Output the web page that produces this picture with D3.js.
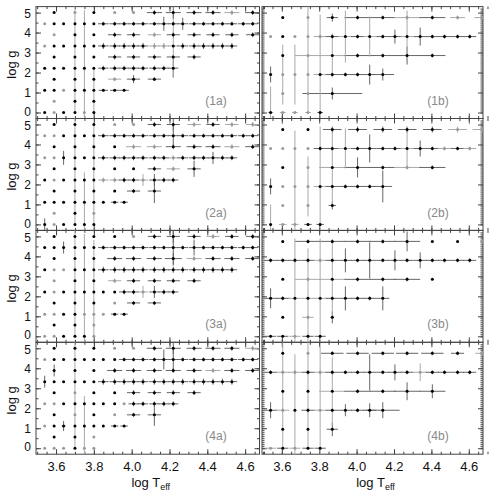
<!DOCTYPE html>
<html>
<head>
<meta charset="utf-8">
<script src="https://cdn.jsdelivr.net/npm/d3@7"></script>
<style>
    body { margin: 0; background: #fff; }
    svg { display: block; font-family: "Liberation Sans", Arial, sans-serif; }
</style>
</head>
<body>
<svg id="chart" width="491" height="496"></svg>
<script>
// grid of the (a) panels: log Teff columns, log g rows, which columns sit on each row
const teffA = [3.54, 3.59, 3.64, 3.70, 3.75, 3.80, 3.85, 3.91, 3.96, 4.01, 4.06,
               4.12, 4.17, 4.22, 4.27, 4.33, 4.38, 4.43, 4.48, 4.53, 4.59, 4.64];
const loggA = [0, 0.56, 1.11, 1.67, 2.22, 2.78, 3.33, 3.89, 4.44, 5.0];
const rowsA = [
    [0, 1, 2, 3, 4, 5],
    [1, 3, 5],
    [0, 1, 2, 3, 4, 5, 6, 7, 8],
    [1, 3, 5, 7, 9, 11],
    [0, 1, 2, 3, 4, 5, 6, 7, 8, 9, 10, 11, 12, 13],
    [1, 3, 5, 7, 9, 11, 13, 15],
    [0, 1, 2, 3, 4, 5, 6, 7, 8, 9, 10, 11, 12, 13, 14, 15, 16, 17, 18, 19],
    [1, 3, 5, 7, 9, 11, 13, 15, 17, 19, 21],
    [0, 1, 2, 3, 4, 5, 6, 7, 8, 9, 10, 11, 12, 13, 14, 15, 16, 17, 18, 19, 20, 21],
    [1, 3, 5, 7, 9, 11, 13, 15, 17, 19, 21]
];

// grid of the (b) panels
const teffB = [3.54, 3.605, 3.67, 3.74, 3.805, 3.87, 3.94, 4.005, 4.07,
               4.14, 4.205, 4.27, 4.34, 4.405, 4.47, 4.54, 4.605, 4.67];
const loggB = [0, 0.95, 1.9, 2.85, 3.8, 4.75];
const rowsB = [
    [0, 1, 2, 3, 4],
    [1, 3, 5],
    [0, 1, 2, 3, 4, 5, 6, 7, 8, 9],
    [1, 3, 5, 7, 9, 11, 13],
    [0, 1, 2, 3, 4, 5, 6, 7, 8, 9, 10, 11, 12, 13, 14, 15, 16],
    [1, 3, 5, 7, 9, 11, 13, 15, 17]
];

const teffTicks = [3.6, 3.8, 4.0, 4.2, 4.4, 4.6];
const loggTicks = [0, 1, 2, 3, 4, 5];

// per panel: gray points [col, row]; error runs [row, colFrom, colTo, dTeff, dlogg];
// single error bars [col, row, dTeff, dlogg]
const gray1a = [[1, 0], [4, 0], [1, 1], [2, 2], [7, 3], [0, 6], [11, 6], [12, 6], [1, 7], [11, 7],
                [0, 8], [3, 9], [7, 9], [9, 9], [19, 9]];
const runs1a = [[2, 6, 8, 0.025, 0.05], [3, 7, 11, 0.035, 0.1], [4, 6, 13, 0.027, 0.12],
                [5, 7, 15, 0.035, 0.12], [6, 6, 19, 0.028, 0.15], [7, 7, 21, 0.035, 0.12],
                [8, 6, 21, 0.028, 0.1], [9, 11, 21, 0.04, 0.12]];
const bars1a = [[3, 5, 0, 2.8], [4, 4, 0, 2.9], [5, 1, 0, 1.7], [13, 6, 0.028, 1.6], [12, 8, 0.028, 0.35],
                [14, 8, 0.028, 0.3], [13, 4, 0.027, 0.45], [13, 9, 0.04, 0.3], [9, 3, 0.035, 0.2]];

const gray2a = [[1, 0], [1, 1], [5, 1], [6, 4], [7, 4], [10, 4], [1, 4], [0, 6], [1, 6], [13, 6],
                [9, 7], [11, 7], [19, 7], [13, 5], [0, 8], [1, 8], [7, 9], [9, 9], [15, 9], [19, 9], [21, 9]];
const runs2a = [[2, 7, 8, 0.02, 0.05], [3, 9, 11, 0.035, 0.1], [4, 6, 13, 0.027, 0.12],
                [5, 11, 15, 0.035, 0.12], [6, 6, 19, 0.028, 0.12], [7, 9, 21, 0.04, 0.12],
                [8, 6, 21, 0.028, 0.1], [9, 11, 21, 0.035, 0.12]];
const bars2a = [[0, 0, 0, 0.3], [3, 5, 0, 2.8], [5, 4, 0, 2.9], [4, 2, 0, 1.5], [2, 6, 0, 0.35],
                [13, 8, 0.028, 0.5], [17, 6, 0.028, 0.3], [15, 5, 0.035, 0.4], [10, 4, 0.027, 0.3],
                [11, 4, 0.027, 0.3], [11, 3, 0.035, 0.6], [13, 9, 0.035, 0.3]];

const gray3a = [[0, 0], [1, 0], [5, 0], [5, 1], [0, 2], [1, 2], [4, 2], [5, 2], [6, 2], [7, 3],
                [1, 4], [10, 4], [1, 5], [7, 5], [1, 6], [2, 6], [15, 7], [9, 9], [17, 9]];
const runs3a = [[2, 7, 8, 0.02, 0.05], [3, 9, 11, 0.035, 0.1], [4, 8, 13, 0.027, 0.12],
                [5, 7, 15, 0.035, 0.12], [6, 6, 19, 0.028, 0.15], [7, 7, 21, 0.04, 0.12],
                [8, 6, 21, 0.028, 0.1], [9, 11, 21, 0.035, 0.12]];
const bars3a = [[3, 5, 0, 2.8], [4, 4, 0, 2.9], [5, 4, 0, 2.6], [2, 8, 0, 0.3], [13, 8, 0.028, 0.9],
                [15, 8, 0.028, 0.4], [10, 4, 0.027, 0.3], [11, 4, 0.027, 0.3], [13, 9, 0.035, 0.35],
                [13, 7, 0.045, 0.3]];

const gray4a = [[0, 0], [1, 0], [2, 0], [4, 0], [5, 0], [5, 1], [0, 2], [3, 3], [7, 3], [0, 4],
                [1, 4], [8, 4], [3, 5], [17, 7], [0, 8], [7, 9], [9, 9], [21, 9]];
const runs4a = [[2, 7, 8, 0.02, 0.05], [3, 9, 11, 0.035, 0.1], [4, 9, 13, 0.027, 0.12],
                [5, 9, 15, 0.035, 0.12], [6, 6, 19, 0.028, 0.15], [7, 7, 21, 0.04, 0.12],
                [8, 8, 21, 0.028, 0.1], [9, 11, 21, 0.04, 0.12]];
const bars4a = [[3, 5, 0, 2.8], [4, 2, 0, 1.5], [1, 7, 0, 0.3], [0, 6, 0, 0.3], [2, 2, 0.01, 0.25],
                [12, 8, 0.028, 0.5], [13, 8, 0.028, 0.5], [11, 3, 0.035, 0.55], [13, 9, 0.04, 0.3]];

const gray1b = [[1, 0], [2, 0], [3, 0], [1, 1], [3, 1], [1, 2], [2, 2], [3, 2], [3, 3], [0, 4],
                [2, 4], [3, 4], [4, 4], [3, 5], [11, 5], [15, 5], [17, 5]];
const runs1b = [[0, 0, 4, 0.015, 0.05], [2, 4, 9, 0.035, 0.1], [3, 3, 13, 0.07, 0.1],
                [4, 4, 16, 0.035, 0.1], [5, 7, 13, 0.07, 0.1], [5, 15, 17, 0.04, 0.1]];
const bars1b = [[5, 5, 0.03, 0.2], [6, 4, 0.035, 1.3], [8, 4, 0.035, 1.0], [11, 4, 0.035, 1.3],
                [12, 4, 0.035, 0.45], [10, 4, 0.035, 0.35], [11, 3, 0.07, 0.45], [5, 3, 0.07, 1.1],
                [5, 1, 0.16, 0.3], [0, 2, 0, 0.4], [8, 2, 0.035, 0.5], [9, 2, 0.06, 0.3],
                [0, 0, 0.015, 1.3], [1, 2, 0, 1.5], [2, 2, 0, 1.5], [3, 3, 0.07, 2.8], [4, 2, 0.035, 3.0]];

const gray2b = [[1, 0], [2, 0], [1, 1], [3, 1], [1, 2], [2, 2], [3, 2], [3, 3], [11, 3], [0, 4],
                [1, 4], [2, 4], [3, 4], [14, 4], [16, 4], [15, 5], [17, 5]];
const runs2b = [[0, 0, 4, 0.02, 0.05], [2, 4, 9, 0.035, 0.1], [3, 5, 13, 0.07, 0.1],
                [4, 4, 16, 0.035, 0.1], [5, 5, 17, 0.05, 0.15]];
const bars2b = [[2, 2, 0, 2.8], [4, 2, 0.035, 3.0], [5, 3, 0.07, 2.0], [6, 4, 0.035, 1.0],
                [7, 3, 0.07, 0.5], [8, 4, 0.035, 0.7], [9, 2, 0.05, 0.8], [11, 4, 0.035, 1.0],
                [12, 4, 0.035, 0.4], [0, 2, 0, 0.4], [0, 0, 0, 1.0], [3, 2, 0, 1.5], [5, 1, 0.02, 0.2]];

const gray3b = [[2, 0], [3, 1], [3, 3], [4, 4], [17, 5]];
const runs3b = [[0, 0, 4, 0.03, 0.05], [1, 3, 3, 0.03, 0.1], [2, 0, 9, 0.035, 0.1],
                [3, 3, 11, 0.07, 0.1], [4, 0, 16, 0.035, 0.1], [5, 3, 11, 0.07, 0.1]];
const bars3b = [[2, 2, 0.035, 3.0], [3, 2, 0.035, 2.5], [4, 2, 0.035, 3.0], [5, 3, 0.07, 1.8],
                [11, 5, 0.07, 0.5], [10, 4, 0.035, 0.5], [12, 4, 0.035, 0.4], [8, 4, 0.035, 0.9],
                [6, 4, 0.035, 0.6], [0, 2, 0.035, 0.5], [9, 2, 0.035, 0.6], [6, 2, 0.035, 0.6],
                [5, 1, 0.01, 0.3]];

const gray4b = [[0, 0], [2, 0], [1, 2], [4, 2], [1, 4], [2, 4], [4, 4], [12, 4], [3, 5], [17, 5]];
const runs4b = [[0, 0, 4, 0.03, 0.05], [2, 0, 9, 0.035, 0.1], [3, 5, 13, 0.07, 0.1],
                [4, 0, 16, 0.035, 0.1], [5, 5, 13, 0.06, 0.1], [5, 15, 17, 0.035, 0.1]];
const bars4b = [[1, 3, 0, 2.8], [2, 2, 0, 2.8], [3, 3, 0, 2.8], [4, 2, 0.035, 3.2], [5, 3, 0.07, 1.7],
                [8, 4, 0.035, 0.9], [12, 4, 0.035, 0.45], [10, 4, 0.035, 0.4], [11, 3, 0.07, 0.45],
                [13, 3, 0.07, 0.35], [0, 2, 0.035, 0.4], [6, 2, 0.035, 0.3], [8, 2, 0.035, 0.35],
                [9, 2, 0.09, 0.4], [5, 1, 0.03, 0.35]];

const panelNames = [['(1a)', '(1b)'], ['(2a)', '(2b)'], ['(3a)', '(3b)'], ['(4a)', '(4b)']];

// ---- layout ----
const grids = [
    {teff: teffA, logg: loggA, rows: rowsA, x0: 36, x1: 259.5, minorY: 0.5},
    {teff: teffB, logg: loggB, rows: rowsB, x0: 262, x1: 483, minorY: 0.1}
];
const rowTop = [6.6, 118.5, 230.4, 342.3];
const rowH = 111.9;
const panelData = [
    [[gray1a, runs1a, bars1a], [gray1b, runs1b, bars1b]],
    [[gray2a, runs2a, bars2a], [gray2b, runs2b, bars2b]],
    [[gray3a, runs3a, bars3a], [gray3b, runs3b, bars3b]],
    [[gray4a, runs4a, bars4a], [gray4b, runs4b, bars4b]]
];

const svg = d3.select('#chart');

function buildPoints(g, gray, runs, bars) {
    const pts = [];
    g.rows.forEach((cols, r) => {
        cols.forEach(c => {
            const bar = bars.find(b => b[0] === c && b[1] === r);
            const run = runs.find(u => u[0] === r && c >= u[1] && c <= u[2]);
            pts.push({
                t: g.teff[c],
                g: g.logg[r],
                dt: bar ? bar[2] : (run ? run[3] : 0),
                dg: bar ? bar[3] : (run ? run[4] : 0),
                gray: gray.some(q => q[0] === c && q[1] === r)
            });
        });
    });
    return pts;
}

const minorX = d3.range(3.5, 4.70, 0.05).map(v => +v.toFixed(2));

rowTop.forEach((top, ri) => {
    grids.forEach((g, ci) => {
        const w = g.x1 - g.x0;
        const x = d3.scaleLinear().domain([3.494, 4.676]).range([0, w]);
        const y = d3.scaleLinear().domain([-0.3, 5.3]).range([rowH, 0]);
        const [gray, runs, bars] = panelData[ri][ci];
        const pts = buildPoints(g, gray, runs, bars);

        const p = svg.append('g').attr('transform', 'translate(' + g.x0 + ',' + top + ')');
        const clipId = 'clip' + ri + ci;
        p.append('clipPath').attr('id', clipId)
            .append('rect').attr('width', w).attr('height', rowH);

        // axes, ticks pointing inward
        const minorYv = d3.range(0, 5.3, g.minorY).map(v => +v.toFixed(2));
        const bottom = ri === 3;
        const axes = [
            [d3.axisBottom(x).tickValues(teffTicks).tickSize(-5).tickPadding(8)
                .tickFormat(bottom ? d3.format('.1f') : () => ''), 'translate(0,' + rowH + ')'],
            [d3.axisBottom(x).tickValues(minorX).tickSize(-2.5).tickFormat(() => ''), 'translate(0,' + rowH + ')'],
            [d3.axisTop(x).tickValues(teffTicks).tickSize(-5).tickFormat(() => ''), null],
            [d3.axisTop(x).tickValues(minorX).tickSize(-2.5).tickFormat(() => ''), null],
            [d3.axisLeft(y).tickValues(loggTicks).tickSize(-5).tickPadding(5)
                .tickFormat(ci === 0 ? d3.format('d') : () => ''), null],
            [d3.axisLeft(y).tickValues(minorYv).tickSize(-2.5).tickFormat(() => ''), null],
            [d3.axisRight(y).tickValues(loggTicks).tickSize(-5).tickFormat(() => ''), 'translate(' + w + ',0)'],
            [d3.axisRight(y).tickValues(minorYv).tickSize(-2.5).tickFormat(() => ''), 'translate(' + w + ',0)']
        ];
        axes.forEach(([ax, tr], ai) => {
            const a = p.append('g').call(ax);
            if (tr) a.attr('transform', tr);
            a.select('.domain').remove();
            a.selectAll('line').attr('stroke', '#444');
            a.selectAll('text').attr('font-size', ai === 4 ? 12 : 13).attr('fill', '#111');
            if (ai === 4) {
                // keep the 0 of one panel clear of the 5 of the panel below
                a.selectAll('text').attr('dy', d => d === 0 ? '0.22em' : d === 5 ? '0.42em' : '0.32em');
            }
        });

        p.append('rect').attr('width', w).attr('height', rowH)
            .attr('fill', 'none').attr('stroke', '#444').attr('stroke-width', 1);

        const marks = p.append('g').attr('clip-path', 'url(#' + clipId + ')');
        const barColor = d => (d.gray || d.dg >= 1) ? '#aaa' : '#666';

        marks.selectAll('line.ex').data(pts.filter(d => d.dt > 0)).join('line')
            .attr('class', 'ex')
            .attr('x1', d => x(d.t - d.dt)).attr('x2', d => x(d.t + d.dt))
            .attr('y1', d => y(d.g)).attr('y2', d => y(d.g))
            .attr('stroke', barColor).attr('stroke-width', 1);

        marks.selectAll('line.ey').data(pts.filter(d => d.dg > 0)).join('line')
            .attr('class', 'ey')
            .attr('x1', d => x(d.t)).attr('x2', d => x(d.t))
            .attr('y1', d => y(d.g - d.dg)).attr('y2', d => y(d.g + d.dg))
            .attr('stroke', barColor).attr('stroke-width', 1);

        marks.selectAll('circle').data(pts).join('circle')
            .attr('cx', d => x(d.t)).attr('cy', d => y(d.g))
            .attr('r', 1.5)
            .attr('fill', d => d.gray ? '#9a9a9a' : '#000');

        p.append('text')
            .attr('x', ci === 0 ? 180 : 176).attr('y', 98)
            .attr('text-anchor', 'middle')
            .attr('font-size', 12).attr('fill', '#888')
            .text(panelNames[ri][ci]);

        if (ci === 0) {
            svg.append('text')
                .attr('transform', 'translate(16,' + (top + 58) + ') rotate(-90)')
                .attr('text-anchor', 'middle')
                .attr('font-size', 13).attr('fill', '#111')
                .text('log g');
        }
        if (bottom) {
            const lab = svg.append('text')
                .attr('x', g.x0 + w / 2 + 3).attr('y', 487)
                .attr('text-anchor', 'middle')
                .attr('font-size', 13).attr('fill', '#111');
            lab.append('tspan').text('log T');
            lab.append('tspan').attr('font-size', 9).attr('dy', 3).text('eff');
        }
    });
});
</script>
</body>
</html>
